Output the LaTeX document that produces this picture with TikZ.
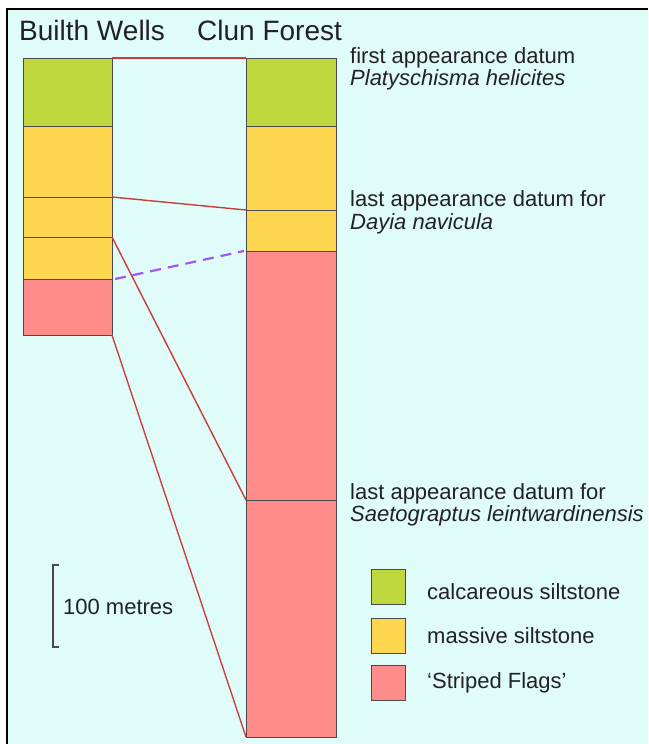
\documentclass[tikz,border=0pt]{standalone}
\usepackage{fontspec}
\setmainfont{Liberation Sans}
\definecolor{bgc}{HTML}{E0FCF8}
\definecolor{calc}{HTML}{BED83E}
\definecolor{mass}{HTML}{FFD64F}
\definecolor{strp}{HTML}{FF8B8B}
\definecolor{corr}{HTML}{CC3A3A}
\definecolor{dashc}{HTML}{A455F2}
\definecolor{edgec}{HTML}{4A4A4A}
\definecolor{txt}{HTML}{222222}
\begin{document}
\begin{tikzpicture}[x=1pt,y=-1pt,
  bed/.style={draw=edgec,line width=1pt,inner sep=0pt,outer sep=0pt,anchor=north west},
  corrline/.style={draw=corr,line width=1.4pt},
  lbl/.style={inner sep=0pt,anchor=west,text=txt,font=\fontsize{22}{24}\selectfont},
  ttl/.style={inner sep=0pt,anchor=west,text=txt,font=\fontsize{28}{30}\selectfont},
  key/.style={draw=edgec,line width=0.8pt,inner sep=0pt,minimum width=34pt,minimum height=35pt,anchor=north west}]
\useasboundingbox (0,0) rectangle (648,744);
\fill[white] (0,0) rectangle (648,744);
\fill[bgc] (7,9) rectangle (648,744);
\draw[black,line width=2pt] (7,744) -- (7,9) -- (648,9);
% titles
\node[ttl] (tbw) at (19,30) {Builth Wells};
\node[ttl] (tcf) at (197,30) {Clun Forest};
% Builth Wells column
\node[bed,fill=calc,minimum width=89pt,minimum height=68pt] (b1) at (23,58) {};
\node[bed,fill=mass,minimum width=89pt,minimum height=71pt] (b2) at (23,126) {};
\node[bed,fill=mass,minimum width=89pt,minimum height=40pt] (b3) at (23,197) {};
\node[bed,fill=mass,minimum width=89pt,minimum height=42pt] (b4) at (23,237) {};
\node[bed,fill=strp,minimum width=89pt,minimum height=56pt] (b5) at (23,279) {};
% Clun Forest column
\node[bed,fill=calc,minimum width=90pt,minimum height=68pt] (c1) at (246,58) {};
\node[bed,fill=mass,minimum width=90pt,minimum height=84pt] (c2) at (246,126) {};
\node[bed,fill=mass,minimum width=90pt,minimum height=41pt] (c3) at (246,210) {};
\node[bed,fill=strp,minimum width=90pt,minimum height=249pt] (c4) at (246,251) {};
\node[bed,fill=strp,minimum width=90pt,minimum height=237pt] (c5) at (246,500) {};
% correlation lines
\draw[corrline] (b1.north east) -- (c1.north west);
\draw[corrline] (b3.north east) -- (c3.north west);
\draw[corrline] (b4.north east) -- (c5.north west);
\draw[corrline] (b5.south east) -- (c5.south west);
\draw[draw=dashc,line width=2.2pt,dash pattern=on 11pt off 7pt] ([xshift=3pt]b5.north east) -- ([xshift=-2pt]c4.north west);
% datum labels
\node[lbl] (l1a) at (350,58) {first appearance datum};
\node[lbl] (l1b) at (350,80) {\itshape Platyschisma helicites};
\node[lbl] (l2a) at (350,201) {last appearance datum for};
\node[lbl] (l2b) at (350,224) {\itshape Dayia navicula};
\node[lbl] (l3a) at (350,494) {last appearance datum for};
\node[lbl] (l3b) at (350,516) {\itshape Saetograptus leintwardinensis};
% scale bar
\coordinate (s1) at (59,565);
\coordinate (s2) at (59,647);
\draw[edgec,line width=1.4pt] (s1) -- ++(-6,0) -- ([xshift=-6pt]s2) -- (s2);
\node[lbl] (scl) at (63,607) {100 metres};
% legend
\node[key,fill=calc] (k1) at (371,569) {};
\node[key,fill=mass] (k2) at (371,618) {};
\node[key,fill=strp] (k3) at (371,665) {};
\node[lbl] (t1) at (427,592) {calcareous siltstone};
\node[lbl] (t2) at (427,636) {massive siltstone};
\node[lbl] (t3) at (427,683) {‘Striped Flags’};
\end{tikzpicture}
\end{document}
